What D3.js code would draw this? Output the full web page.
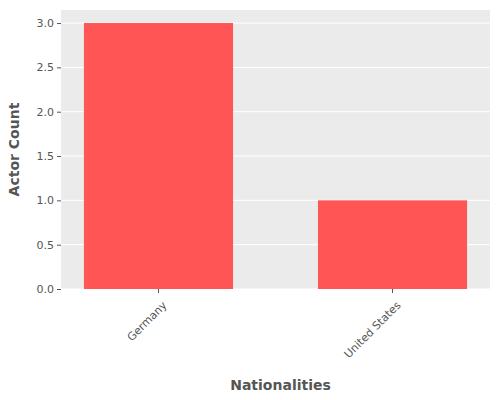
<!DOCTYPE html>
<html>
<head>
<meta charset="utf-8">
<script src="https://cdn.jsdelivr.net/npm/d3@7"></script>
<style>
body { margin: 0; background: #fff; }
text { font-family: "DejaVu Sans", sans-serif; }
</style>
</head>
<body>
<div id="chart"></div>
<script>
var categories = ['Germany', 'United States'];
var counts = [3, 1];
var yTicks = [0, 0.5, 1, 1.5, 2, 2.5, 3];

var svgWidth = 500;
var svgHeight = 400;
var margin = { top: 10, right: 10, bottom: 111, left: 61 };
var width = svgWidth - margin.left - margin.right;
var height = svgHeight - margin.top - margin.bottom;

var svg = d3.select('#chart')
    .append('svg')
    .attr('width', svgWidth)
    .attr('height', svgHeight);

var chartGroup = svg.append('g')
    .attr('transform', `translate(${margin.left}, ${margin.top})`);

var x = d3.scaleBand()
    .domain(categories)
    .range([0, width])
    .paddingInner(0.363)
    .paddingOuter(0.098);

var y = d3.scaleLinear()
    .domain([0, 3.147])
    .range([height, 0]);

chartGroup.append('rect')
    .attr('width', width)
    .attr('height', height)
    .attr('fill', '#ebebeb');

chartGroup.selectAll('line.grid')
    .data(yTicks)
    .enter()
    .append('line')
    .attr('x1', 0)
    .attr('x2', width)
    .attr('y1', d => y(d))
    .attr('y2', d => y(d))
    .attr('stroke', '#fff')
    .attr('stroke-width', 1);

chartGroup.selectAll('rect.bar')
    .data(counts)
    .enter()
    .append('rect')
    .attr('class', 'bar')
    .attr('x', (d, i) => x(categories[i]))
    .attr('width', x.bandwidth())
    .attr('y', d => y(d))
    .attr('height', d => height - y(d))
    .attr('fill', '#ff5555');

var leftAxis = d3.axisLeft(y).tickValues(yTicks).tickFormat(d3.format('.1f')).tickSize(4);
var yAxis = chartGroup.append('g').call(leftAxis);
yAxis.select('.domain').remove();
yAxis.selectAll('line').attr('stroke', '#555');
yAxis.selectAll('text').attr('fill', '#555').attr('font-size', 11);

var bottomAxis = d3.axisBottom(x).tickSize(4);
var xAxis = chartGroup.append('g')
    .attr('transform', `translate(0, ${height})`)
    .call(bottomAxis);
xAxis.select('.domain').remove();
xAxis.selectAll('line').attr('stroke', '#555');
xAxis.selectAll('text')
    .attr('fill', '#555')
    .attr('font-size', 11)
    .attr('text-anchor', 'end')
    .attr('dx', '0')
    .attr('dy', '0')
    .attr('transform', 'translate(4, 12) rotate(-45)');

chartGroup.append('text')
    .attr('transform', 'rotate(-90)')
    .attr('x', -height / 2)
    .attr('y', -42)
    .attr('text-anchor', 'middle')
    .attr('fill', '#555')
    .attr('font-size', 14)
    .attr('font-weight', 'bold')
    .text('Actor Count');

chartGroup.append('text')
    .attr('x', width / 2 + 5)
    .attr('y', height + 101)
    .attr('text-anchor', 'middle')
    .attr('fill', '#555')
    .attr('font-size', 14)
    .attr('font-weight', 'bold')
    .text('Nationalities');
</script>
</body>
</html>
